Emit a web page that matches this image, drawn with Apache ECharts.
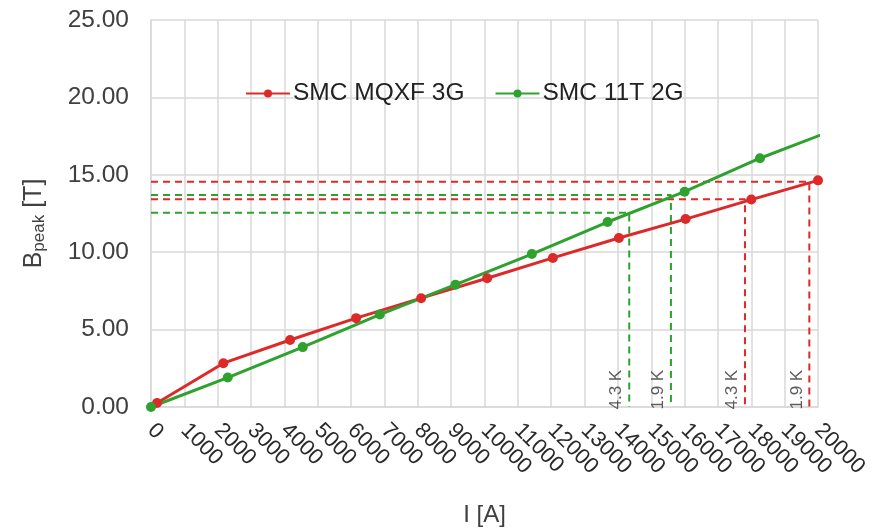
<!DOCTYPE html>
<html>
<head>
<meta charset="utf-8">
<script src="https://cdn.jsdelivr.net/npm/echarts@6/dist/echarts.min.js"></script>
<style>
  html, body { margin: 0; padding: 0; background: #fff; }
  #chart { width: 881px; height: 532px; }
</style>
</head>
<body>
<div id="chart"></div>
<script>
// measured curves [I (A), Bpeak (T)]
const mqxfPoints = [
  [180, 0.26], [2170, 2.83], [4170, 4.33], [6150, 5.74], [8100, 7.03],
  [10080, 8.32], [12050, 9.63], [14030, 10.92], [16030, 12.14],
  [18000, 13.40], [20000, 14.64]
]
const t11Points = [
  [0, 0], [2300, 1.9], [4550, 3.87], [6860, 5.97], [9130, 7.9],
  [11420, 9.88], [13690, 11.95], [16000, 13.91], [18260, 16.07], [20540, 17.95]
]

// operating points at 4.3 K and 1.9 K: [I, B, label]
const mqxfOps = [[17810, 13.42, '4.3 K'], [19740, 14.55, '1.9 K']]
const t11Ops = [[14340, 12.55, '4.3 K'], [15590, 13.7, '1.9 K']]

const yTicks = [0, 5, 10, 15, 20, 25]

const RED = '#dc2a2a'
const GREEN = '#2ea12e'
const TEXT = '#404040'
const GRID = '#d9d9d9'

const chart = echarts.init(document.getElementById('chart'))

function opSeries(ops, color) {
  const out = []
  ops.forEach(([x, y, name]) => {
    out.push({
      type: 'line',
      data: [[0, y], [x, y], [x, 0]],
      symbol: 'none',
      silent: true,
      z: 1,
      lineStyle: { color: color, width: 2, type: [7, 5] }
    })
    out.push({
      type: 'scatter',
      data: [[x, 0]],
      symbolSize: 1,
      silent: true,
      z: 4,
      itemStyle: { color: 'rgba(0,0,0,0)' },
      label: {
        show: true,
        formatter: name,
        position: 'top',
        distance: 0,
        rotate: 90,
        align: 'left',
        verticalAlign: 'bottom',
        offset: [-3, -4],
        color: '#333',
        fontSize: 17,
        fontFamily: 'Liberation Sans'
      }
    })
  })
  return out
}

const option = {
  animation: false,
  textStyle: { fontFamily: 'Liberation Sans' },
  grid: { left: 151, right: 63, top: 20, bottom: 125, containLabel: false, outerBoundsMode: 'none' },
  legend: {
    data: ['SMC MQXF 3G', 'SMC 11T 2G'],
    left: 240,
    top: 76,
    itemWidth: 44,
    itemHeight: 10,
    itemGap: 30,
    textStyle: { fontSize: 24.5, color: '#222', padding: [0, 0, 0, -2] }
  },
  xAxis: {
    type: 'value',
    min: 0,
    max: 20000,
    interval: 1000,
    name: 'I [A]',
    nameLocation: 'middle',
    nameGap: 96,
    nameTextStyle: { fontSize: 24, color: TEXT },
    axisLine: { show: true, lineStyle: { color: GRID, width: 1.5 } },
    axisTick: { show: false },
    splitLine: { show: true, lineStyle: { color: GRID, width: 1.5 } },
    axisLabel: {
      rotate: -45, margin: 20, fontSize: 22, color: '#2a2a2a',
      showMinLabel: true, showMaxLabel: true, hideOverlap: false,
      formatter: v => String(v)
    }
  },
  yAxis: {
    type: 'value',
    min: yTicks[0],
    max: yTicks[yTicks.length - 1],
    interval: 5,
    name: '{b|B}{s|peak}{b| [T]}',
    nameLocation: 'middle',
    nameGap: 103,
    nameTextStyle: {
      padding: [0, 20, 0, 0],
      rich: {
        b: { fontSize: 25, color: TEXT, fontFamily: 'Liberation Sans' },
        s: { fontSize: 17, color: TEXT, fontFamily: 'Liberation Sans', verticalAlign: 'bottom', padding: [10, 0, 0, 0] }
      }
    },
    axisLine: { show: true, lineStyle: { color: GRID, width: 1.5 } },
    axisTick: { show: false },
    splitLine: { show: true, lineStyle: { color: GRID, width: 1.5 } },
    axisLabel: { margin: 22, fontSize: 24.5, color: TEXT, formatter: v => v.toFixed(2) }
  },
  series: [
    ...opSeries(mqxfOps, RED),
    ...opSeries(t11Ops, GREEN),
    {
      name: 'SMC MQXF 3G',
      type: 'line',
      data: mqxfPoints,
      symbol: 'circle',
      symbolSize: 10,
      z: 3,
      color: RED,
      lineStyle: { width: 3 }
    },
    {
      name: 'SMC 11T 2G',
      type: 'line',
      data: t11Points,
      symbol: 'circle',
      symbolSize: 10,
      z: 3,
      color: GREEN,
      lineStyle: { width: 3 }
    }
  ]
}

chart.setOption(option)
</script>
</body>
</html>
